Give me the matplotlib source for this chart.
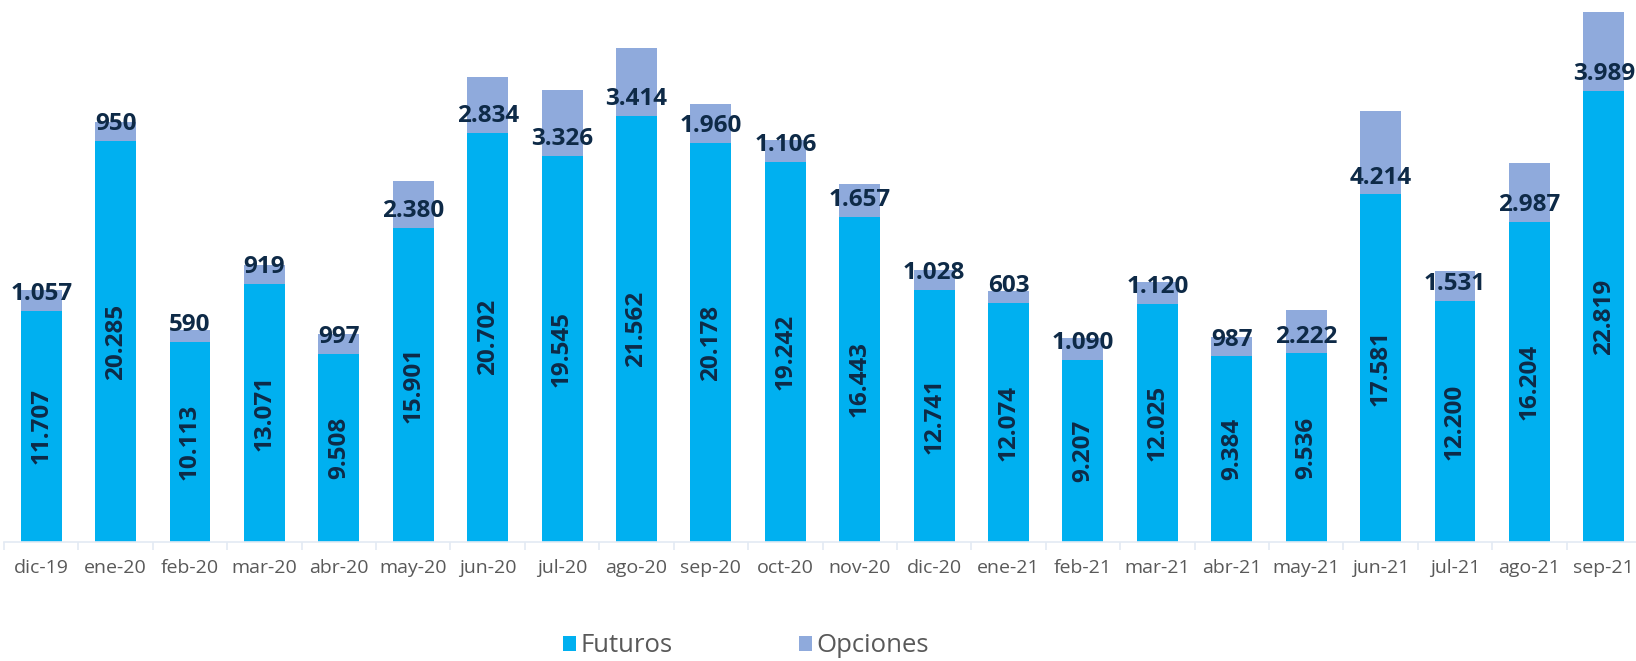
import numpy as np
import matplotlib
matplotlib.use('Agg')
import matplotlib.pyplot as plt

plt.rcParams['font.family'] = ['Open Sans', 'DejaVu Sans']

meses = ['dic-19', 'ene-20', 'feb-20', 'mar-20', 'abr-20', 'may-20', 'jun-20',
         'jul-20', 'ago-20', 'sep-20', 'oct-20', 'nov-20', 'dic-20', 'ene-21',
         'feb-21', 'mar-21', 'abr-21', 'may-21', 'jun-21', 'jul-21', 'ago-21',
         'sep-21']
futuros = [11707, 20285, 10113, 13071, 9508, 15901, 20702, 19545, 21562, 20178,
           19242, 16443, 12741, 12074, 9207, 12025, 9384, 9536, 17581, 12200,
           16204, 22819]
opciones = [1057, 950, 590, 919, 997, 2380, 2834, 3326, 3414, 1960, 1106, 1657,
            1028, 603, 1090, 1120, 987, 2222, 4214, 1531, 2987, 3989]

c_fut = '#00B0F0'
c_opc = '#8FAADC'
c_lab = '#0E2A47'
c_txt = '#595959'


def fmt(v):
    # separador de miles con punto
    return f'{v:,}'.replace(',', '.')


W, H = 1636, 661
fig = plt.figure(figsize=(W / 100, H / 100), dpi=100)
ax = fig.add_axes([4 / W, 1 - 542 / H, (1641 - 4) / W, 542 / H])

x = np.arange(len(meses))
b1 = ax.bar(x, futuros, width=0.55, color=c_fut, label='Futuros')
b2 = ax.bar(x, opciones, width=0.55, bottom=futuros, color=c_opc, label='Opciones')

ax.set_xlim(-0.5, len(meses) - 0.5)
ax.set_ylim(0, 26808 * 542 / 530)

for i in range(len(meses)):
    ax.text(x[i], futuros[i] / 2, fmt(futuros[i]), rotation=90, ha='center',
            va='center', fontsize=17.5, fontweight='bold', color=c_lab)
    ax.annotate(fmt(opciones[i]), (x[i], futuros[i]), xytext=(0, 3.5),
                textcoords='offset points', ha='center', va='bottom',
                fontsize=17.5, fontweight='bold', color=c_lab)

for s in ['top', 'right', 'left']:
    ax.spines[s].set_visible(False)
ax.spines['bottom'].set_color('#E3EAF3')
ax.spines['bottom'].set_linewidth(1.2)
ax.set_yticks([])
ax.set_xticks(x)
ax.set_xticklabels(meses, fontsize=14, color=c_txt)
ax.tick_params(axis='x', which='major', length=0, pad=12)
ax.set_xticks(np.arange(-0.5, len(meses), 1), minor=True)
ax.tick_params(axis='x', which='minor', length=6, color='#E3EAF3', width=1.2)

fig.legend(handles=[b1, b2], loc='center', bbox_to_anchor=(746 / W, 1 - 646 / H),
           ncol=2, frameon=False, fontsize=18.5, labelcolor=c_txt,
           handlelength=0.5, handleheight=0.5, handletextpad=0.2,
           columnspacing=4.9, borderpad=0.1)

fig.savefig('out.png', dpi=100)
